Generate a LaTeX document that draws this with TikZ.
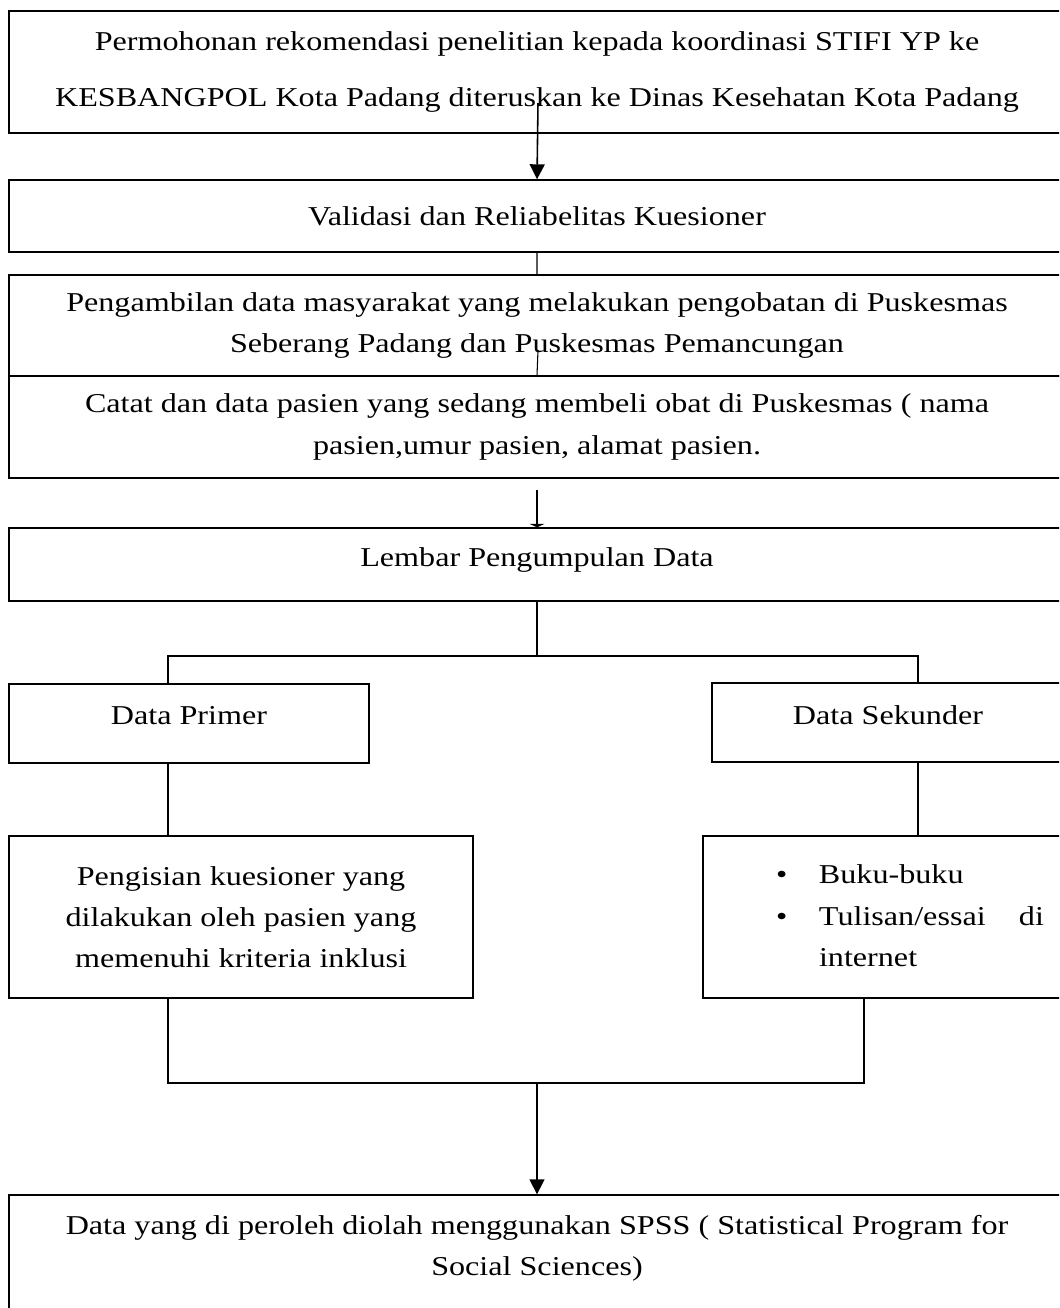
\documentclass[tikz,border=0pt]{standalone}
\usepackage{fontspec}
\setmainfont{Liberation Serif}[FakeStretch=1.18]
\usetikzlibrary{arrows.meta}

\begin{document}
\begin{tikzpicture}[x=0.02cm, y=-0.02cm,
        kotak/.style={rectangle, draw, line width=0.8pt, align=center, inner sep=0pt, font=\fontsize{15.5}{23.5}\selectfont},
        naik/.style={text depth=9pt},
        garis/.style={line width=0.6pt},
        panah/.style={line width=0.9pt, -{Triangle[length=0.3cm, width=0.3cm]}},
        panahpipih/.style={line width=0.9pt, -{Triangle[length=0.07cm, width=0.3cm]}}]
        \useasboundingbox (0, 0) rectangle (1059, 1308);
        \clip (0, 0) rectangle (1059, 1308);

        \node[kotak, minimum width=21.12cm, minimum height=2.44cm, font=\fontsize{15.5}{32}\selectfont] (izin) at (537, 72)
            {Permohonan rekomendasi penelitian kepada koordinasi STIFI YP ke\\KESBANGPOL Kota Padang diteruskan ke Dinas Kesehatan Kota Padang};
        \node[kotak, minimum width=21.12cm, minimum height=1.44cm] (valid) at (537, 216) {Validasi dan Reliabelitas Kuesioner};
        \node[kotak, minimum width=21.12cm, minimum height=2.02cm] (ambil) at (537, 325.5)
            {Pengambilan data masyarakat yang melakukan pengobatan di Puskesmas\\Seberang Padang dan Puskesmas Pemancungan};
        \node[kotak, minimum width=21.12cm, minimum height=2.04cm] (catat) at (537, 427)
            {Catat dan data pasien yang sedang membeli obat di Puskesmas ( nama\\pasien,umur pasien, alamat pasien.};
        \node[kotak, naik, minimum width=21.12cm, minimum height=1.46cm] (lembar) at (537, 564.5) {Lembar Pengumpulan Data};
        \node[kotak, naik, minimum width=7.2cm, minimum height=1.58cm] (primer) at (189, 723.5) {Data Primer};
        \node[kotak, naik, minimum width=7.04cm, minimum height=1.58cm] (sekunder) at (888, 722.5) {Data Sekunder};
        \node[kotak, minimum width=9.28cm, minimum height=3.24cm] (isi) at (241, 917)
            {Pengisian kuesioner yang\\dilakukan oleh pasien yang\\memenuhi kriteria inklusi};
        \node[kotak, minimum width=7.22cm, minimum height=3.24cm, align=left] (sumber) at (883.5, 917)
            {\begin{tabular}{@{\hspace{1.46cm}}p{0.86cm}@{}p{4.5cm}@{\hspace{0.4cm}}}
            \textbullet & Buku-buku\\
            \textbullet & \makebox[4.5cm][l]{Tulisan/essai\hfill di}\\
            & internet
            \end{tabular}};
        \node[kotak, naik, minimum width=21.12cm, minimum height=2.34cm] (olah) at (537, 1253.5)
            {Data yang di peroleh diolah menggunakan SPSS ( Statistical Program for\\Social Sciences)};

        \coordinate (a1) at (538, 103);
        \coordinate (a3) at (538, 350);
        \coordinate (a4) at (537, 490);
        \coordinate (kl) at (168, 656);
        \coordinate (kr) at (918, 656);
        \coordinate (ml) at (168, 1083);
        \coordinate (mr) at (864, 1083);
        \coordinate (mc) at (537, 1083);

        \draw[panah] (a1) -- (valid.north);
        \draw[garis] (valid.south) -- (ambil.north)
            (a3) -- (catat.north);
        \draw[panahpipih] (a4) -- (lembar.north);
        \draw[garis] (lembar.south) -- (lembar.south |- kl)
            (kl |- primer.north) -- (kl) -- (kr) -- (kr |- sekunder.north)
            (kl |- primer.south) -- (kl |- isi.north)
            (kr |- sekunder.south) -- (kr |- sumber.north)
            (ml |- isi.south) -- (ml) -- (mr) -- (mr |- sumber.south);
        \draw[panah] (mc) -- (olah.north);
\end{tikzpicture}
\end{document}
